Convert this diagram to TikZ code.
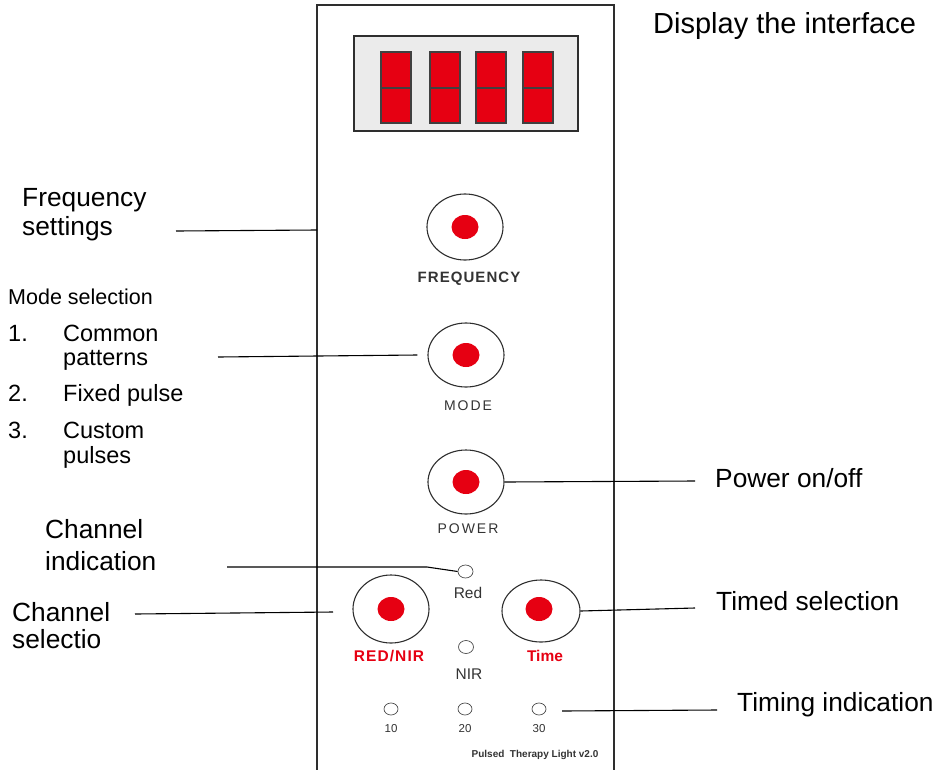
\documentclass[tikz,border=0pt]{standalone}
\usepackage{fontspec}
\setmainfont{Liberation Sans}
\newfontfamily\widecaps[LetterSpace=14]{Liberation Sans}
\newfontfamily\boldcaps[LetterSpace=7]{Liberation Sans}
\usetikzlibrary{shapes.geometric}
\definecolor{panelred}{HTML}{E60012}
\definecolor{edge}{HTML}{2E2E2E}
\definecolor{screen}{HTML}{EBEBEB}
\begin{document}
\begin{tikzpicture}[x=1pt,y=-1pt,
  callout/.style={anchor=base west, inner sep=0pt, font=\fontsize{26.3}{30}\selectfont},
  listtext/.style={anchor=base west, inner sep=0pt, font=\fontsize{23.5}{28}\selectfont},
  lead/.style={draw=black, line width=1.1pt},
  knob/.style={ellipse, draw=edge, line width=1.1pt, minimum width=76pt, minimum height=66pt, inner sep=0pt},
  dot/.style={ellipse, fill=panelred, minimum width=27pt, minimum height=24pt, inner sep=0pt},
  led/.style={ellipse, draw=black!70, line width=0.7pt, minimum width=15pt, minimum height=13pt, inner sep=0pt},
  digit/.style={rectangle, draw=black!75, fill=panelred, line width=1.2pt, minimum width=30pt, minimum height=71pt, inner sep=0pt},
  caption/.style={anchor=base, inner sep=0pt, text=black!80},
]
\useasboundingbox (0,0) rectangle (945,769);
\clip (0,0) rectangle (945,769);

% front panel outline (open at the bottom)
\draw[line width=1.5pt, draw=edge] (317,780) -- (317,5) -- (614,5) -- (614,780);

% display window with four digits
\node[draw=edge, fill=screen, line width=1.2pt, minimum width=224pt, minimum height=95pt, inner sep=0pt] (screen) at (466,83.5) {};
\foreach \i/\x in {1/396, 2/445, 3/491, 4/538}{
  \node[digit] (dig\i) at (\x,87.5) {};
  \draw[draw=black!75, line width=1.2pt] (dig\i.west) ++(0,0.5) -- ++(30,0);
}

% buttons
\node[knob] (freq) at (465,227) {};
\node[dot] at (freq.center) {};
\node[caption, font=\boldcaps\bfseries\fontsize{15}{18}\selectfont] (freqtxt) at (469,282) {FREQUENCY};

\node[knob, minimum height=64pt] (mode) at (466,355) {};
\node[dot] at (mode.center) {};
\node[caption, font=\widecaps\fontsize{14}{17}\selectfont] (modetxt) at (468,410) {MODE};

\node[knob, minimum height=64pt] (power) at (466,482) {};
\node[dot] at (power.center) {};
\node[caption, font=\widecaps\fontsize{14}{17}\selectfont] (powertxt) at (468,533) {POWER};

\node[knob, minimum height=68pt] (rednir) at (391,609) {};
\node[dot] at (rednir.center) {};
\node[caption, text=panelred, font=\boldcaps\bfseries\fontsize{15.5}{18}\selectfont] (rednirtxt) at (389,661) {RED/NIR};

\node[knob, minimum width=78pt, minimum height=62pt] (time) at (541,611) {};
\node[dot] at (539,609) {};
\node[caption, text=panelred, font=\bfseries\fontsize{15.5}{18}\selectfont] (timetxt) at (545,661) {Time};

% channel indicators
\node[led] (ledred) at (465.5,571.5) {};
\node[caption, font=\fontsize{15.5}{18}\selectfont] (redtxt) at (468,598) {Red};
\node[led] (lednir) at (466,647) {};
\node[caption, font=\fontsize{15.5}{18}\selectfont] (nirtxt) at (469,679) {NIR};

% timer indicators
\foreach \n/\x in {10/391, 20/465, 30/539}{
  \node[led, minimum width=14pt, minimum height=12pt] (led\n) at (\x,709) {};
  \node[caption, font=\fontsize{11.5}{14}\selectfont] at (\x,732) {\n};
}
\node[caption, font=\bfseries\fontsize{10}{12}\selectfont] (model) at (535,757) {Pulsed\ \ Therapy Light v2.0};

% callout texts
\node[callout, font=\fontsize{29}{32}\selectfont] (display) at (653,33) {Display the interface};

\node[callout] (freqA) at (22,206) {Frequency};
\node[callout] (freqB) at (22,235) {settings};

\node[listtext, font=\fontsize{21.5}{26}\selectfont] (modeA) at (8,304) {Mode selection};
\node[listtext] (n1) at (8,341) {1.};
\node[listtext] (m1) at (63,341) {Common};
\node[listtext] (m1b) at (63,365) {patterns};
\node[listtext] (n2) at (8,401) {2.};
\node[listtext] (m2) at (63,401) {Fixed pulse};
\node[listtext] (n3) at (8,438) {3.};
\node[listtext] (m3) at (63,438) {Custom};
\node[listtext] (m3b) at (63,463) {pulses};

\node[callout] (powerA) at (715,487) {Power on/off};

\node[callout] (chindA) at (45,538) {Channel};
\node[callout] (chindB) at (45,570) {indication};

\node[callout] (chselA) at (12,621) {Channel};
\node[callout] (chselB) at (12,648) {selectio};

\node[callout] (timedA) at (716,610) {Timed selection};
\node[callout] (timingA) at (737,711) {Timing indication};

% leader lines
\coordinate (freqL) at (176,231);
\coordinate (freqR) at (317,230);
\draw[lead] (freqL) -- (freqR);

\coordinate (modeL) at (218,357);
\draw[lead] (modeL) -- ([xshift=-10pt]mode.west);

\coordinate (powerR) at (695,481);
\draw[lead] (power.east) -- (powerR);

\coordinate (chindL) at (227,567);
\coordinate (chindK) at (427,567);
\draw[lead] (chindL) -- (chindK) -- (ledred.west);

\coordinate (chselL) at (135,614);
\coordinate (chselR) at (333,612);
\draw[lead] (chselL) -- (chselR);

\coordinate (timedR) at (695,608);
\draw[lead] (time.east) -- (timedR);

\coordinate (timingL) at (562,711);
\coordinate (timingR) at (717,710);
\draw[lead] (timingL) -- (timingR);
\end{tikzpicture}
\end{document}
